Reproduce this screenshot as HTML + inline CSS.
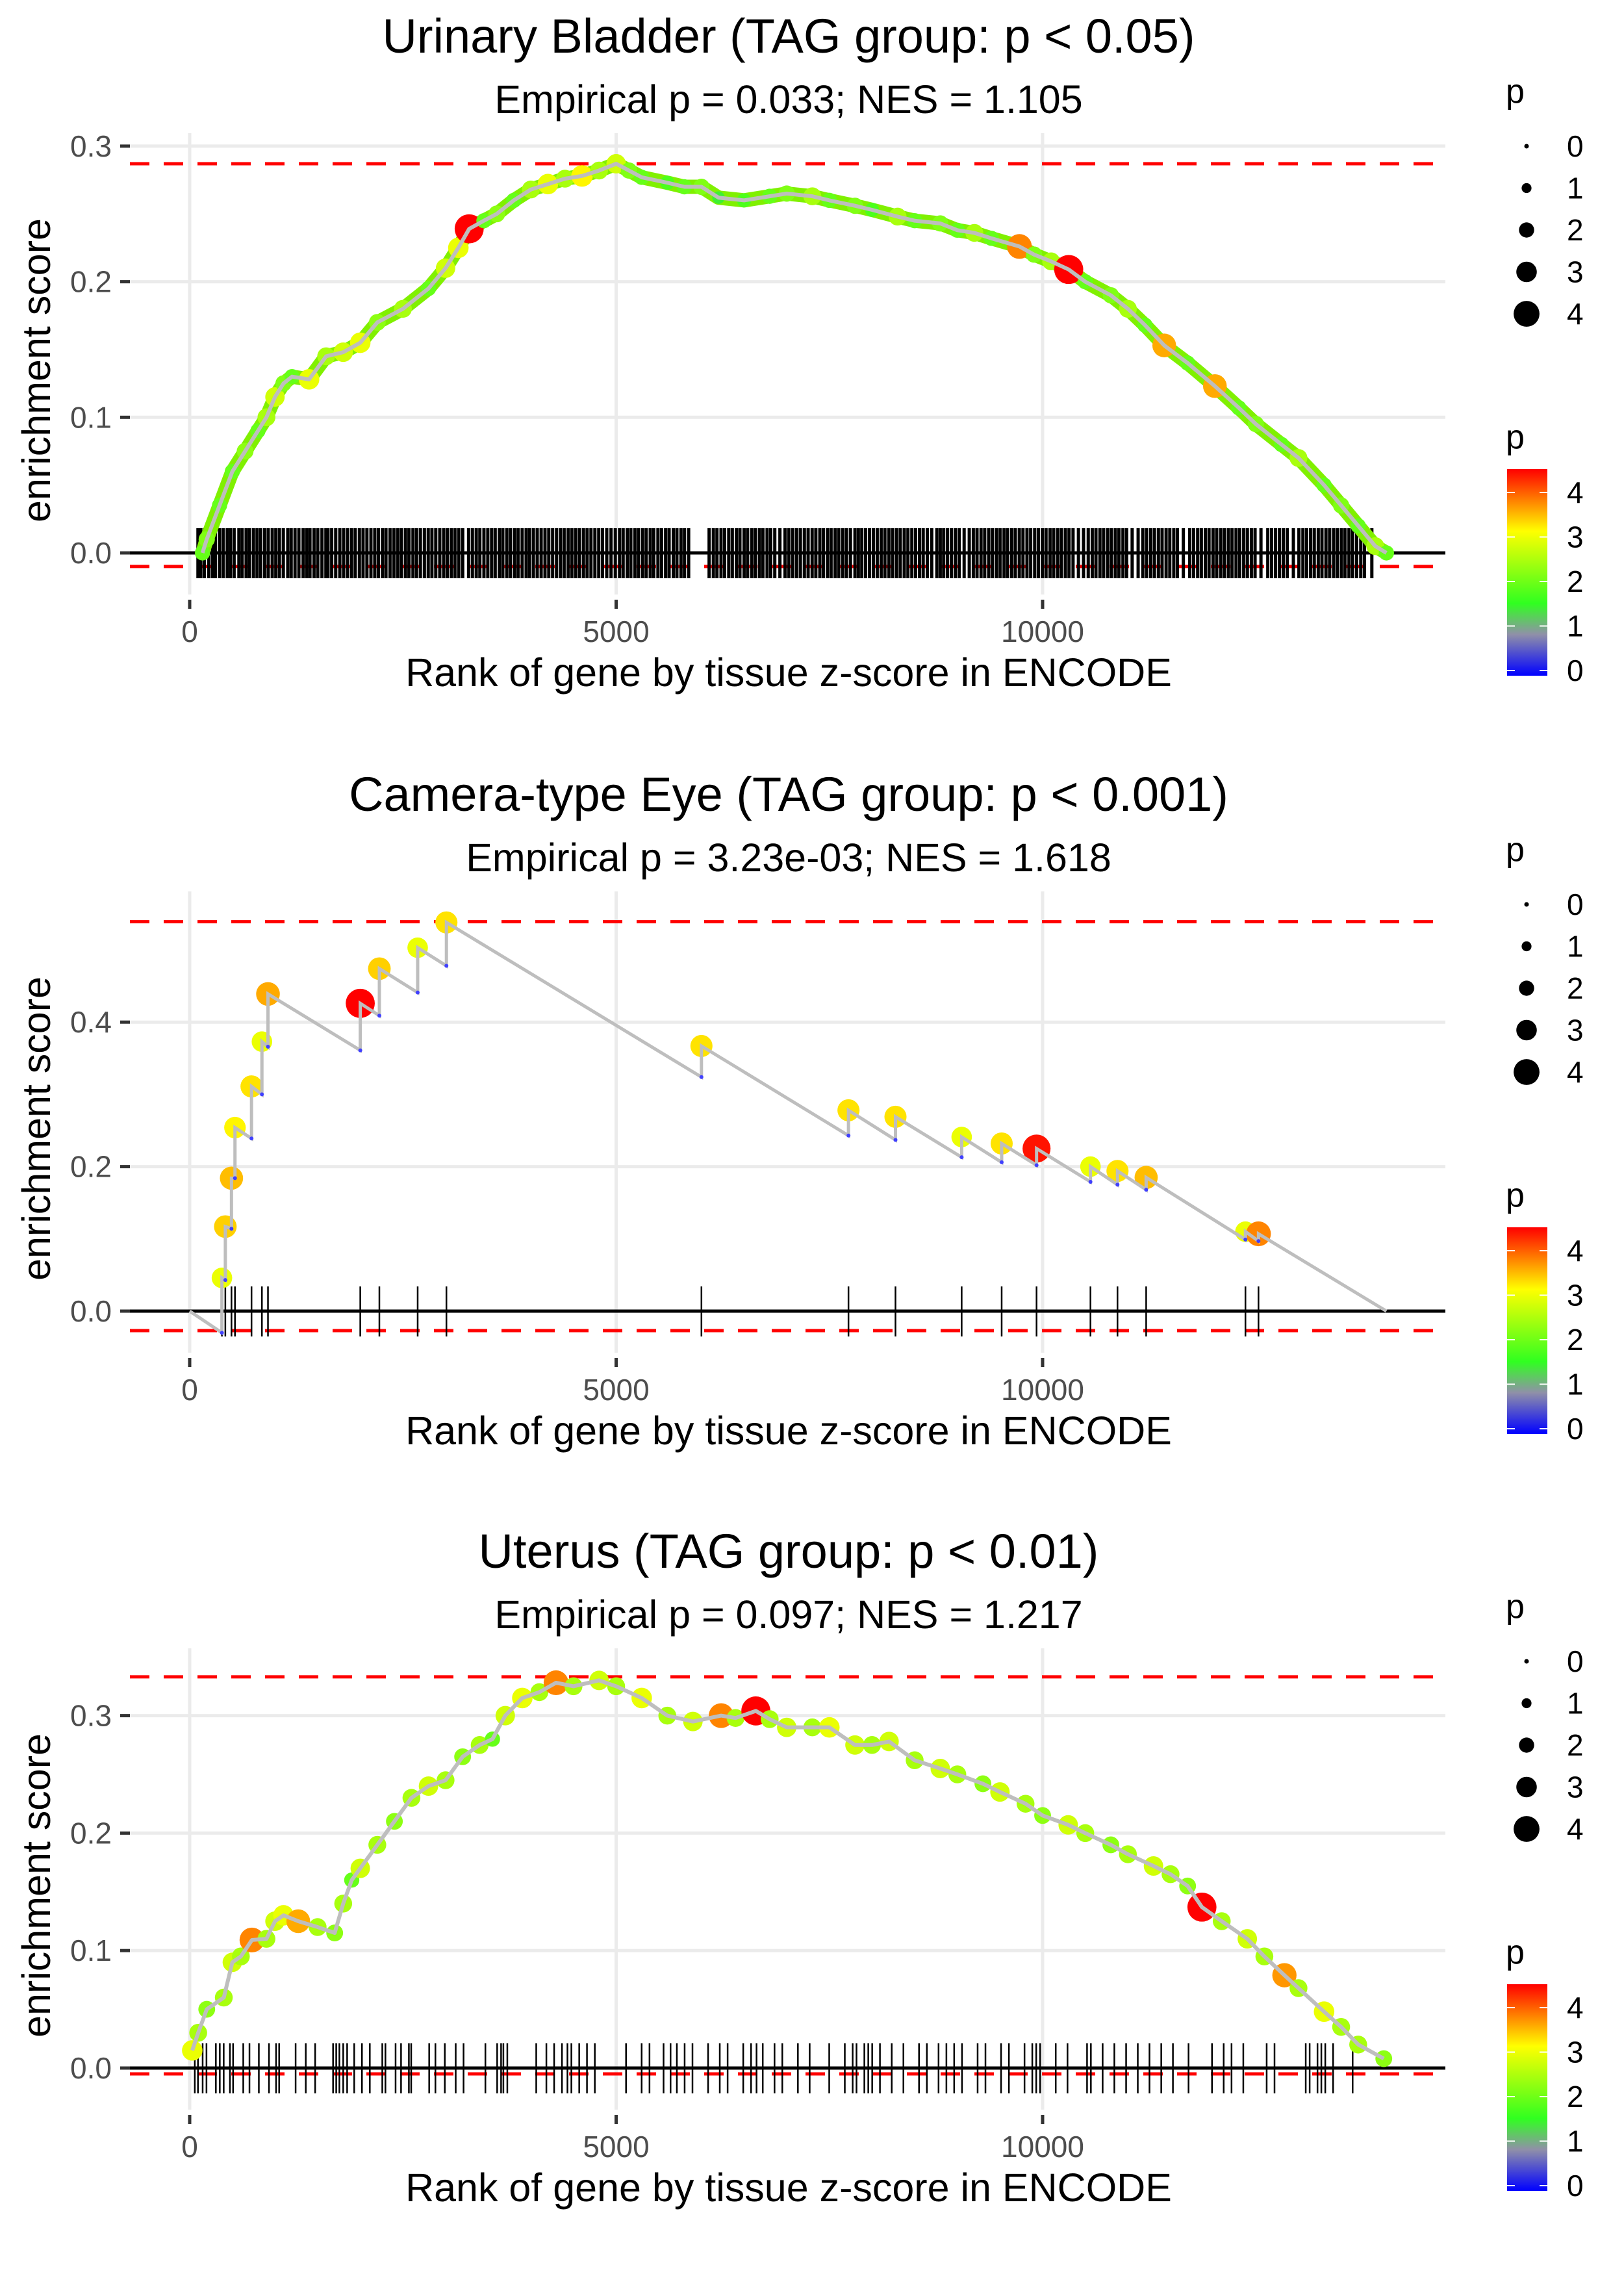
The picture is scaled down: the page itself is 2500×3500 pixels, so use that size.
<!DOCTYPE html>
<html><head><meta charset="utf-8"><style>
html,body{margin:0;padding:0;background:#fff;}
svg{display:block;font-family:"Liberation Sans",Arial,sans-serif;}
</style></head><body>
<svg id="chart" xmlns="http://www.w3.org/2000/svg" width="2500" height="3500" viewBox="0 0 2500 3500">
<defs>
<linearGradient id="pgrad" x1="0" y1="1" x2="0" y2="0">
<stop offset="0" stop-color="#0000ff"/>
<stop offset="0.2" stop-color="#9090a8"/>
<stop offset="0.35" stop-color="#30ff20"/>
<stop offset="0.7" stop-color="#ffff00"/>
<stop offset="1" stop-color="#ff0000"/>
</linearGradient>
</defs>
</svg>
<script>
// ---------- data ----------
const titles = ["Urinary Bladder (TAG group: p < 0.05)","Camera-type Eye (TAG group: p < 0.001)","Uterus (TAG group: p < 0.01)"];
const subtitles = ["Empirical p = 0.033; NES = 1.105","Empirical p = 3.23e-03; NES = 1.618","Empirical p = 0.097; NES = 1.217"];
const xTicks = [0,5000,10000];
const yTicks1 = [0.0,0.1,0.2,0.3];
const yTicks2 = [0.0,0.2,0.4];
const yTicks3 = [0.0,0.1,0.2,0.3];
const dashLevels1 = [0.287,-0.01];
const dashLevels2 = [0.539,-0.027];
const dashLevels3 = [0.333,-0.005];
const nGenes = 14031;

const p1Ranks = [150,200,350,500,650,800,900,1000,1100,1200,1400,1600,1800,2000,2200,2500,2800,3000,3150,3277,3450,3600,3800,4000,4200,4400,4600,4800,5000,5150,5300,5600,5800,6000,6200,6500,6800,7000,7300,7500,7800,8000,8300,8500,8800,9000,9200,9400,9728,9900,10100,10306,10500,10800,11000,11200,11426,11700,12020,12300,12500,12800,13000,13300,13500,13700,13900,14031];
const p1ES = [0,0.01,0.035,0.06,0.075,0.09,0.1,0.115,0.125,0.13,0.128,0.145,0.148,0.155,0.17,0.18,0.195,0.21,0.225,0.239,0.245,0.25,0.26,0.268,0.272,0.276,0.278,0.282,0.287,0.282,0.277,0.273,0.27,0.27,0.262,0.26,0.263,0.265,0.263,0.26,0.256,0.253,0.248,0.245,0.243,0.238,0.236,0.232,0.226,0.22,0.215,0.209,0.2,0.19,0.18,0.168,0.153,0.14,0.123,0.107,0.095,0.08,0.07,0.05,0.035,0.02,0.005,0];
const p1P = [2.0,2.2,2.0,2.0,2.3,2.0,2.5,2.8,2.2,2.0,3.0,2.5,2.8,3.0,2.3,2.5,2.0,2.8,3.0,4.6,2.0,2.3,2.0,2.5,3.0,2.5,3.2,2.5,2.8,2.2,2.0,1.8,2.0,2.2,1.5,1.8,2.0,2.2,2.5,2.0,2.2,1.8,2.5,2.0,2.2,2.0,2.5,2.0,3.8,2.2,2.5,4.6,2.0,2.2,2.5,2.0,3.6,2.0,3.6,2.0,2.2,2.0,2.5,2.0,2.2,2.0,2.5,2.0];
const p1Hits = [97,130,171,224,268,301,349,392,440,478,521,577,615,662,701,748,790,832,879,921,968,1010,1052,1098,1150,1190,1235,1280,1330,1372,1410,1458,1502,1551,1597,1622,1665,1712,1760,1805,1851,1898,1941,1990,2033,2078,2125,2170,2212,2260,2301,2349,2395,2440,2482,2530,2571,2618,2660,2705,2752,2797,2840,2885,2932,2978,3020,3066,3110,3155,3201,3270,3315,3360,3402,3450,3495,3540,3582,3630,3671,3718,3760,3808,3850,3898,3945,3985,4030,4075,4121,4166,4210,4255,4301,4347,4390,4437,4481,4526,4570,4617,4660,4705,4751,4796,4840,4890,4940,4990,5040,5082,5130,5172,5220,5262,5310,5352,5400,5441,5490,5532,5580,5621,5670,5712,5760,5801,5850,6090,6140,6182,6230,6272,6320,6362,6410,6451,6500,6541,6590,6632,6680,6721,6770,6812,6860,6920,6980,7025,7071,7116,7160,7207,7251,7298,7341,7388,7430,7478,7520,7567,7610,7657,7700,7747,7800,7840,7880,7925,7971,8016,8061,8107,8151,8198,8242,8288,8331,8378,8421,8467,8511,8557,8600,8648,8700,8760,8800,8840,8885,8931,8977,9022,9080,9140,9188,9231,9278,9321,9368,9411,9458,9501,9548,9590,9638,9680,9727,9770,9817,9860,9907,9950,9997,10040,10087,10130,10177,10220,10267,10310,10357,10420,10480,10535,10582,10625,10672,10715,10762,10805,10852,10895,10942,10985,11050,11120,11175,11220,11268,11311,11358,11401,11448,11491,11538,11581,11650,11725,11770,11818,11861,11908,11951,11998,12041,12088,12131,12178,12221,12268,12311,12358,12401,12448,12491,12560,12640,12685,12731,12777,12822,12868,12940,13005,13052,13095,13142,13185,13232,13275,13322,13365,13412,13455,13502,13545,13592,13635,13682,13730,13773,13860];

const p2Ranks = [378,418,490,531,725,847,918,2000,2224,2673,3010,6000,7724,8275,9051,9520,9929,10561,10878,11214,12378,12531];
const p2Peak = [0.046,0.117,0.184,0.254,0.311,0.373,0.439,0.426,0.474,0.503,0.538,0.367,0.278,0.269,0.241,0.232,0.225,0.200,0.194,0.185,0.110,0.107];
const p2Trough = [-0.030,0.043,0.114,0.184,0.239,0.300,0.366,0.361,0.409,0.441,0.478,0.324,0.243,0.237,0.213,0.206,0.202,0.179,0.175,0.168,0.099,0.097];
const p2P = [3.0,3.4,3.5,3.2,3.3,3.0,3.6,4.6,3.4,3.0,3.3,3.3,3.3,3.3,3.0,3.3,4.4,3.0,3.3,3.5,3.0,3.8];

const p3Ranks = [30,100,200,400,500,600,730,900,1000,1100,1273,1500,1700,1800,1900,2000,2200,2400,2600,2800,3000,3200,3400,3550,3700,3900,4100,4295,4500,4800,5000,5300,5600,5900,6231,6400,6638,6800,7000,7300,7500,7800,8000,8200,8500,8800,9000,9300,9500,9800,10000,10300,10500,10800,11000,11300,11500,11700,11868,12100,12400,12600,12835,13000,13300,13500,13700,14000];
const p3ES = [0.015,0.03,0.05,0.06,0.09,0.095,0.109,0.11,0.125,0.13,0.125,0.12,0.115,0.14,0.16,0.17,0.19,0.21,0.23,0.24,0.245,0.265,0.275,0.28,0.3,0.315,0.32,0.328,0.325,0.33,0.325,0.315,0.3,0.295,0.3,0.298,0.304,0.297,0.29,0.29,0.29,0.275,0.275,0.278,0.262,0.255,0.25,0.242,0.235,0.225,0.215,0.207,0.2,0.19,0.182,0.172,0.165,0.155,0.137,0.125,0.11,0.095,0.079,0.068,0.048,0.035,0.02,0.008];
const p3P = [3.0,2.5,2.3,2.5,2.8,2.5,3.8,2.5,2.8,3.0,3.6,2.5,2.3,2.5,2.0,2.8,2.5,2.3,2.5,2.8,2.5,2.3,2.5,2.0,2.8,3.0,2.5,3.8,2.5,2.8,2.5,3.0,2.5,2.8,3.8,2.5,4.6,2.5,2.8,2.5,3.0,2.8,2.5,2.8,2.5,2.8,2.5,2.3,2.8,2.5,2.3,2.8,2.5,2.3,2.5,2.8,2.5,2.3,4.6,2.5,2.8,2.5,3.7,2.5,3.0,2.5,2.5,2.3];
const p3Hits = [60,97,152,197,307,353,399,472,509,628,701,811,930,1013,1049,1242,1361,1471,1681,1718,1755,1800,1846,1929,2020,2112,2258,2295,2414,2478,2570,2597,2808,2881,2991,3119,3211,3467,3605,3651,3678,3724,4063,4182,4273,4365,4429,4475,4567,4658,4750,5116,5299,5391,5556,5638,5712,5803,5895,6078,6215,6307,6490,6582,6646,6719,6857,6948,7131,7269,7498,7681,7773,7818,7910,7956,8002,8093,8231,8368,8551,8643,8780,8872,8963,9055,9238,9330,9513,9605,9788,9879,9925,9971,10154,10292,10521,10566,10704,10841,10979,11116,11253,11391,11528,11711,11986,12123,12215,12353,12627,12719,13085,13131,13223,13268,13314,13406,13635];
const sizeLegend = [0,1,2,3,4];
const colorLegend = [0,1,2,3,4];

// ---------- helpers ----------
const svg = document.getElementById('chart');
const NS = 'http://www.w3.org/2000/svg';
function mk(tag, attrs, parent){ const e=document.createElementNS(NS,tag); for(const k in attrs) e.setAttribute(k,attrs[k]); (parent||svg).appendChild(e); return e; }
const X0 = 292, XK = 0.1313;
function xs(r){ return X0 + r*XK; }
function pColor(p){
  const st=[[0,[0,0,255]],[0.9,[144,144,168]],[1.6,[48,255,32]],[3.15,[255,255,0]],[4.5,[255,0,0]]];
  if(p<=0) return 'rgb(0,0,255)';
  for(let i=1;i<st.length;i++){ if(p<=st[i][0]||i===st.length-1){ const a=st[i-1],b=st[i]; let t=(p-a[0])/(b[0]-a[0]); t=Math.max(0,Math.min(1,t)); const c=a[1].map((v,j)=>Math.round(v+(b[1][j]-v)*t)); return 'rgb('+c.join(',')+')'; } }
}
function pRad(p){ return 3.5 + 4.1*p; }

const panels = [
  {off:0, zero:851, unit:2087, yt:yTicks1, dash:dashLevels1},
  {off:1167, zero:2018, unit:1112, yt:yTicks2, dash:dashLevels2},
  {off:2332, zero:3183, unit:1808, yt:yTicks3, dash:dashLevels3}
];

panels.forEach((P,pi)=>{
  const g = mk('g',{});
  
  
  const ys = v => P.zero - v*P.unit;
  const top = 205+P.off, bot = 915+P.off, left=200, right=2225;
  xTicks.forEach(t=>{ const l=mk('line',{x1:xs(t),x2:xs(t),y1:top,y2:bot,stroke:'#ebebeb','stroke-width':5},g);
      });
  P.yt.forEach(t=>{ const l=mk('line',{x1:left,x2:right,y1:ys(t),y2:ys(t),stroke:'#ebebeb','stroke-width':5},g);
      });
  let t=mk('text',{x:1214,y:81+P.off,'font-size':74,'text-anchor':'middle',fill:'#000'},g); t.textContent=titles[pi];
   
  t=mk('text',{x:1214,y:174+P.off,'font-size':61,'text-anchor':'middle',fill:'#000'},g); t.textContent=subtitles[pi];
   
  P.yt.forEach(v=>{ const tl=mk('text',{x:172,y:ys(v)+16,'font-size':46,'text-anchor':'end',fill:'#4d4d4d'},g); tl.textContent=v.toFixed(1);
     
    const tm=mk('line',{x1:185,x2:200,y1:ys(v),y2:ys(v),stroke:'#333','stroke-width':5},g);
      });
  t=mk('text',{x:77,y:570+P.off,'font-size':61,'text-anchor':'middle',fill:'#000',transform:'rotate(-90 77 '+(570+P.off)+')'},g); t.textContent='enrichment score';
   
  xTicks.forEach(v=>{ const tl=mk('text',{x:xs(v),y:988+P.off,'font-size':46,'text-anchor':'middle',fill:'#4d4d4d'},g); tl.textContent=String(v);
     
    const tm=mk('line',{x1:xs(v),x2:xs(v),y1:923+P.off,y2:937+P.off,stroke:'#333','stroke-width':5},g);
      });
  t=mk('text',{x:1214,y:1056+P.off,'font-size':61,'text-anchor':'middle',fill:'#000'},g); t.textContent='Rank of gene by tissue z-score in ENCODE';
   
  P.dash.forEach(v=>{ const l=mk('line',{x1:left,x2:right,y1:ys(v),y2:ys(v),stroke:'#ff0000','stroke-width':5,'stroke-dasharray':'30 22'},g);
      });
  P.g=g; P.ys=ys;
});

function barcode(P, hits, w){
  const bg=mk('g',{},P.g);  
  hits.forEach(r=>{ const l=mk('line',{x1:xs(r),x2:xs(r),y1:P.zero-38,y2:P.zero+39,stroke:'#000','stroke-width':w},bg);
      });
  const z=mk('line',{x1:200,x2:2225,y1:P.zero,y2:P.zero,stroke:'#000','stroke-width':5},P.g);
   
}

// panel 1
(function(){
  const P=panels[0];
  barcode(P,p1Hits,5);
  const pts=p1Ranks.map((r,i)=>xs(r)+','+P.ys(p1ES[i])).join(' ');
  const band=mk('polyline',{points:pts,fill:'none',stroke:'#80f000','stroke-width':22,'stroke-linejoin':'round'},P.g);
   
  p1Ranks.forEach((r,i)=>{ const c=mk('circle',{cx:xs(r),cy:P.ys(p1ES[i]),r:pRad(p1P[i]),fill:pColor(p1P[i])},P.g);
      });
  const ln=mk('polyline',{points:pts,fill:'none',stroke:'#bebebe','stroke-width':6,'stroke-linejoin':'round'},P.g);
   
})();

// panel 2
(function(){
  const P=panels[1];
  barcode(P,p2Ranks,2.5);
  let d='M'+xs(0)+','+P.ys(0);
  p2Ranks.forEach((r,i)=>{ d+=' L'+xs(r)+','+P.ys(p2Trough[i])+' L'+xs(r)+','+P.ys(p2Peak[i]); });
  d+=' L'+xs(nGenes)+','+P.ys(0);
  p2Ranks.forEach((r,i)=>{ const c=mk('circle',{cx:xs(r),cy:P.ys(p2Peak[i]),r:pRad(p2P[i]),fill:pColor(p2P[i])},P.g);
      });
  const ln=mk('path',{d:d,fill:'none',stroke:'#bebebe','stroke-width':5},P.g);
   
  p2Ranks.forEach((r,i)=>{ const c=mk('circle',{cx:xs(r),cy:P.ys(p2Trough[i]),r:3,fill:'#4040ff'},P.g);
      });
})();

// panel 3
(function(){
  const P=panels[2];
  barcode(P,p3Hits,2.5);
  const pts=p3Ranks.map((r,i)=>xs(r)+','+P.ys(p3ES[i])).join(' ');
  p3Ranks.forEach((r,i)=>{ const c=mk('circle',{cx:xs(r),cy:P.ys(p3ES[i]),r:pRad(p3P[i]),fill:pColor(p3P[i])},P.g);
      });
  const ln=mk('polyline',{points:pts,fill:'none',stroke:'#bebebe','stroke-width':6,'stroke-linejoin':'round'},P.g);
   
})();

// legends
panels.forEach((P,pi)=>{
  const o=P.off;
  const lg=mk('g',{});  
  let t=mk('text',{x:2318,y:158+o,'font-size':52,fill:'#000'},lg); t.textContent='p';
   
  sizeLegend.forEach((v,i)=>{ const cy=225+o+i*64.5;
    const c=mk('circle',{cx:2350,cy:cy,r:pRad(v),fill:'#000'},lg);
     
    const tl=mk('text',{x:2412,y:cy+16,'font-size':46,fill:'#000'},lg); tl.textContent=String(v);
      });
  const cg=mk('g',{});  
  t=mk('text',{x:2318,y:690+o,'font-size':52,fill:'#000'},cg); t.textContent='p';
   
  const barTop=722+o, barBot=1040+o, zeroY=1032+o, per=68.5;
  const r=mk('rect',{x:2320,y:barTop,width:62,height:barBot-barTop,fill:'url(#pgrad)'},cg);
   
  colorLegend.forEach(v=>{ const y=zeroY-v*per;
    let l=mk('line',{x1:2320,x2:2332,y1:y,y2:y,stroke:'#fff','stroke-width':2},cg);  
    l=mk('line',{x1:2370,x2:2382,y1:y,y2:y,stroke:'#fff','stroke-width':2},cg);  
    const tl=mk('text',{x:2412,y:y+16,'font-size':46,fill:'#000'},cg); tl.textContent=String(v);
      });
});
</script>
</body></html>
